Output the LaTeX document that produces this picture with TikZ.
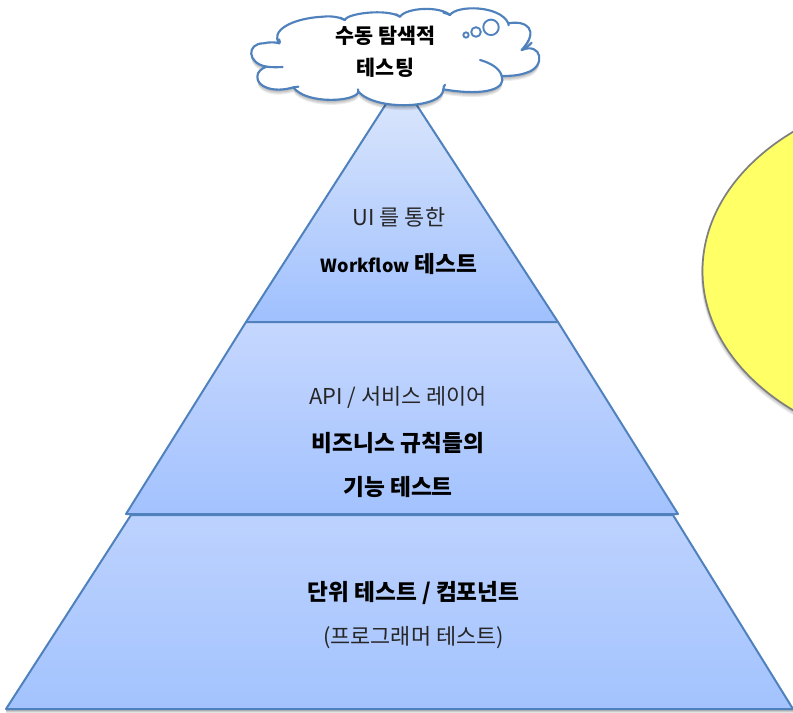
\documentclass[tikz,border=0pt]{standalone}
\usepackage{fontspec}
\setmainfont{Noto Sans CJK KR}
\usetikzlibrary{shapes.geometric}
\definecolor{edgeblue}{HTML}{4F81BD}
\definecolor{edgegray}{HTML}{7F7F80}
\definecolor{sunny}{HTML}{FFFF66}
\definecolor{ta}{HTML}{D8E4FC}
\definecolor{tb}{HTML}{9FC0FE}
\definecolor{ma}{HTML}{C5D7FE}
\definecolor{mb}{HTML}{A3C2FE}
\definecolor{ba}{HTML}{BDD2FE}
\definecolor{bb}{HTML}{A3C3FE}
\tikzset{
  x=0.75pt,y=-0.75pt,
  tier/.style={draw=edgeblue,line width=1.5pt,line join=round},
  soft/.style={fill=black,draw=none,opacity=0.07},
  softer/.style={fill=black,draw=none,opacity=0.11},
  plain/.style={font=\fontsize{16.4}{18}\selectfont,text=black!85,inner sep=0pt,anchor=center},
  strong/.style={font=\fontsize{17}{18}\selectfont\bfseries,text=black,inner sep=0pt,anchor=center},
  cloudtext/.style={font=\fontsize{15.5}{18}\selectfont\bfseries,text=black,inner sep=0pt,anchor=center},
  cloudline/.style={draw=edgeblue,line width=1.6pt,line cap=round}
}
\newcommand{\cloudshape}{(148,130) .. controls (120,95) and (180,55) .. (280,50)
  .. controls (305,47) and (330,52) .. (345,60)
  .. controls (350,40) and (470,25) .. (510,50)
  .. controls (530,22) and (630,18) .. (660,45)
  .. controls (680,15) and (810,15) .. (835,70)
  .. controls (890,60) and (930,90) .. (875,150)
  .. controls (935,125) and (950,200) .. (890,218)
  .. controls (865,227) and (840,228) .. (815,228)
  .. controls (830,265) and (770,290) .. (640,268)
  .. controls (640,325) and (440,335) .. (385,275)
  .. controls (380,305) and (230,315) .. (190,262)
  .. controls (130,280) and (80,260) .. (82,230)
  .. controls (82,215) and (95,205) .. (110,200)
  .. controls (50,190) and (50,130) .. (100,130)
  .. controls (118,126) and (135,126) .. (148,130) -- cycle}
\begin{document}
\begin{tikzpicture}
\useasboundingbox (0,0) rectangle (793,713);
\clip (0,0) rectangle (793,713);
% ellipse shadow and body
\foreach \s in {1,2,3,4}{\fill[soft] (950-0.4*\s,271+\s) ellipse [x radius=247.5*0.75pt,y radius=180*0.75pt];}
\path[draw=edgegray,fill=sunny,line width=1.3pt] (950,271) ellipse [x radius=247.5*0.75pt,y radius=180*0.75pt];
% pyramid shadow
\foreach \s in {2,3,4}{\fill[softer] (6,709+\s) -- (793,709+\s) -- (793,709) -- (6,709) -- cycle;}
% pyramid tiers
\path[tier,top color=ta,bottom color=tb] (246,322) -- (386,104) -- (416,104) -- (558,322) -- cycle;
\path[tier,top color=ma,bottom color=mb] (126,514) -- (246,322) -- (558,322) -- (678,514) -- cycle;
\path[tier,top color=ba,bottom color=bb] (6,709) -- (131,515) -- (673,515) -- (793,709) -- cycle;
% cloud
\begin{scope}[shift={(230,0)},x=0.25pt,y=-0.25pt]
  \foreach \s in {3,6,9,12,15}{\fill[soft,shift={(0,\s)}] \cloudshape;}
  \path[fill=white,draw=edgeblue,line width=1.6pt,line join=round] \cloudshape;
  \draw[cloudline] (148,130) .. controls (150,128) and (150,122) .. (147,118);
  \draw[cloudline] (110,200) .. controls (125,202) and (140,202) .. (158,201);
  \draw[cloudline] (190,262) .. controls (195,262) and (200,262) .. (205,260);
  \draw[cloudline] (385,275) .. controls (386,272) and (386,270) .. (384,268);
  \draw[cloudline] (640,268) .. controls (640,262) and (642,258) .. (645,254);
  \draw[cloudline] (815,228) .. controls (810,205) and (780,188) .. (750,180);
  \draw[cloudline] (875,150) .. controls (890,142) and (900,135) .. (905,128);
  \draw[cloudline] (835,70) .. controls (836,72) and (836,74) .. (836,76);
  \draw[cloudline] (660,45) .. controls (655,42) and (648,40) .. (640,38);
  \draw[cloudline] (510,50) .. controls (506,47) and (502,45) .. (498,43);
  \draw[cloudline] (345,60) .. controls (340,57) and (335,55) .. (330,53);
  \draw[draw=edgeblue,line width=1.4pt] (783,82) circle [radius=5.8pt];
  \draw[draw=edgeblue,line width=1.4pt] (738,96) circle [radius=3.6pt];
  \draw[draw=edgeblue,line width=1.4pt] (708,105) circle [radius=2pt];
\end{scope}
% labels
\node[cloudtext] (c1) at (385.5,35.5) {수동 탐색적};
\node[cloudtext] (c2) at (385.5,67.5) {테스팅};
\node[plain] (t1) at (399,217) {UI 를 통한};
\node[strong] (t2) at (399,264) {{\fontsize{13.5}{18}\selectfont Workflow} 테스트};
\node[plain] (m1) at (398,397.5) {API / 서비스 레이어};
\node[strong] (m2) at (398,443.5) {비즈니스 규칙들의};
\node[strong] (m3) at (398,486.5) {기능 테스트};
\node[strong] (b1) at (413.5,593.5) {단위 테스트 / 컴포넌트};
\node[plain] (b2) at (413.5,637.5) {(프로그래머 테스트)};
\end{tikzpicture}
\end{document}
